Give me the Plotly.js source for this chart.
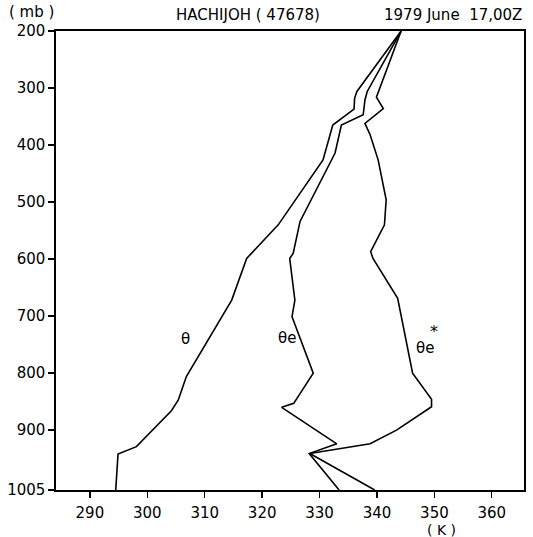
<!DOCTYPE html>
<html>
<head>
<meta charset="utf-8">
<script src="https://cdn.plot.ly/plotly-3.0.1.min.js"></script>
<style>html,body{margin:0;padding:0;background:#fff;}#chart{width:533px;height:537px;}</style>
</head>
<body>
<div id="chart"></div>
<script>
// Pressure levels (mb) and potential temperatures (K)
const thetaP   = [200, 306, 318, 337, 365, 426, 540, 599, 672, 707, 806, 847, 866, 929, 942, 1005];
const thetaK   = [344.2, 336.5, 336.1, 336.0, 332.3, 330.6, 322.8, 317.3, 314.7, 312.6, 306.8, 305.4, 304.2, 298.1, 294.9, 294.5];

const thetaEP  = [200, 306, 321, 347, 365, 414, 534, 590, 599, 672, 701, 800, 853, 860, 924, 941, 1005];
const thetaEK  = [344.2, 338.3, 337.9, 337.6, 333.8, 332.7, 326.6, 325.4, 324.8, 325.7, 325.2, 328.9, 325.5, 323.4, 333.0, 328.2, 333.4];

const thetaESP = [200, 316, 336, 362, 382, 426, 496, 540, 587, 599, 669, 777, 800, 846, 859, 900, 924, 941, 1005];
const thetaESK = [344.2, 339.9, 341.1, 337.9, 338.8, 340.2, 341.6, 341.3, 338.9, 339.3, 343.6, 345.7, 346.2, 349.5, 349.5, 343.4, 338.8, 328.3, 339.6];

const xTicks = [290, 300, 310, 320, 330, 340, 350, 360];
const yTicks = [200, 300, 400, 500, 600, 700, 800, 900, 1005];

const lineStyle = {color: '#000', width: 1.6};
const traces = [
  {x: thetaK, y: thetaP, mode: 'lines', line: lineStyle, name: 'θ'},
  {x: thetaEK, y: thetaEP, mode: 'lines', line: lineStyle, name: 'θe'},
  {x: thetaESK, y: thetaESP, mode: 'lines', line: lineStyle, name: 'θe*'}
];

const fnt = {family: 'DejaVu Sans, sans-serif', size: 15, color: '#000'};
const layout = {
  width: 533, height: 537,
  margin: {l: 56, r: 9, t: 31, b: 47},
  paper_bgcolor: '#fff', plot_bgcolor: '#fff',
  showlegend: false,
  font: fnt,
  xaxis: {
    range: [284.1, 365.6], tickvals: xTicks, ticktext: xTicks.map(String),
    ticks: 'outside', ticklen: 6, tickwidth: 1.3, tickcolor: '#000', ticklabelstandoff: 2,
    showline: true, linecolor: '#000', linewidth: 1.6, mirror: true,
    showgrid: false, zeroline: false, tickfont: fnt
  },
  yaxis: {
    range: [1005, 200], tickvals: yTicks, ticktext: yTicks.map(String),
    ticks: 'outside', ticklen: 6, tickwidth: 1.3, tickcolor: '#000',
    showline: true, linecolor: '#000', linewidth: 1.6, mirror: true,
    showgrid: false, zeroline: false, tickfont: fnt
  },
  annotations: [
    {text: 'HACHIJOH ( 47678)', xref: 'paper', yref: 'paper', x: 0.41, y: 1, yshift: 16, showarrow: false, xanchor: 'center', yanchor: 'middle', font: fnt},
    {text: '1979 June  17,00Z', xref: 'paper', yref: 'paper', x: 1.0, y: 1, yshift: 16, showarrow: false, xanchor: 'right', yanchor: 'middle', font: fnt},
    {text: '( mb )', xref: 'paper', yref: 'paper', x: 0, xshift: -49, y: 1, yshift: 19, showarrow: false, xanchor: 'left', yanchor: 'middle', font: fnt},
    {text: '( K )', xref: 'paper', yref: 'paper', x: 0.823, y: 0, yshift: -40, showarrow: false, xanchor: 'center', yanchor: 'middle', font: {family: 'DejaVu Sans, sans-serif', size: 14, color: '#000'}},
    {text: 'θ', xref: 'x', yref: 'y', x: 306.7, y: 740, showarrow: false, font: fnt},
    {text: 'θe', xref: 'x', yref: 'y', x: 324.4, y: 739, showarrow: false, font: fnt},
    {text: 'θe', xref: 'x', yref: 'y', x: 348.4, y: 756, showarrow: false, font: fnt},
    {text: '*', xref: 'x', yref: 'y', x: 349.9, y: 727, showarrow: false, font: {family: 'DejaVu Sans, sans-serif', size: 16, color: '#000'}}
  ]
};
Plotly.newPlot('chart', traces, layout, {staticPlot: true, displayModeBar: false});
</script>
</body>
</html>
